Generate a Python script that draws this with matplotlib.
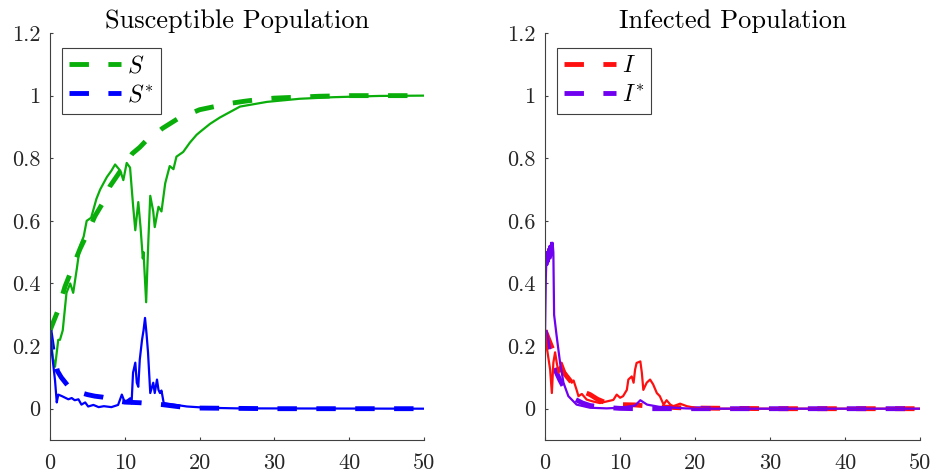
import matplotlib
matplotlib.use('Agg')
import matplotlib.pyplot as plt
from matplotlib.ticker import FixedLocator, FixedFormatter

# deterministic solutions (dashed)
t_det_s = [0, 0.5, 1, 2, 3, 4, 5, 6, 7, 8, 9, 10, 11, 12, 13, 14, 15, 16, 17, 18, 19, 20,
           22, 24, 26, 28, 30, 33, 36, 40, 45, 50]
S_det = [0.25, 0.28, 0.31, 0.39, 0.45, 0.51, 0.56, 0.615, 0.655, 0.71, 0.745, 0.78, 0.815, 0.835,
         0.86, 0.875, 0.895, 0.91, 0.925, 0.935, 0.945, 0.955, 0.965, 0.975, 0.982, 0.988, 0.992,
         0.995, 0.998, 1.0, 1.0, 1.0]
t_det_ss = [0, 0.5, 1, 1.5, 2, 2.5, 3, 4, 5, 6, 7, 8, 9, 10, 11, 12, 13, 14, 15, 16, 17, 18, 20,
            25, 30, 50]
S_star_det = [0.25, 0.17, 0.12, 0.1, 0.085, 0.07, 0.062, 0.052, 0.045, 0.04, 0.037, 0.032, 0.025,
              0.021, 0.02, 0.019, 0.017, 0.015, 0.013, 0.01, 0.007, 0.004, 0.002, 0.001, 0, 0]

t_det_i = [0, 0.5, 1, 1.5, 2, 3, 4, 5, 6, 7, 8, 9, 10, 12, 13, 15, 18, 20, 25, 30, 50]
I_det = [0.25, 0.22, 0.19, 0.15, 0.13, 0.1, 0.07, 0.055, 0.045, 0.03, 0.02, 0.015, 0.013, 0.012,
         0.01, 0.006, 0.003, 0.002, 0.001, 0, 0]
t_det_is = [0, 0.5, 1, 1.33, 2, 2.45, 3, 4, 5, 6, 8, 10, 12, 50]
I_star_det = [0.25, 0.19, 0.145, 0.125, 0.09, 0.07, 0.05, 0.03, 0.018, 0.01, 0.004, 0.001, 0, 0]

# stochastic sample paths (solid)
t_sim_s = [0, 0.4, 0.67, 1.1, 1.33, 1.7, 2.2, 2.7, 3.1, 3.6, 4.0, 4.5, 4.9, 5.5, 6.2, 6.7, 7.6,
           8.2, 8.7, 9.4, 9.8, 10.25, 10.7, 11.1, 11.4, 11.8, 12.1, 12.4, 12.5, 12.85, 13.15, 13.4,
           13.8, 14.0, 14.5, 14.9, 15.4, 16.0, 16.5, 16.9, 17.8, 18.7, 19.6, 20.1, 21.4, 22.7,
           25.4, 29, 33.4, 37.9, 44, 50]
S_sim = [0.25, 0.16, 0.134, 0.22, 0.22, 0.25, 0.37, 0.40, 0.37, 0.45, 0.52, 0.55, 0.60, 0.61,
         0.67, 0.70, 0.74, 0.76, 0.78, 0.76, 0.73, 0.785, 0.77, 0.65, 0.57, 0.66, 0.58, 0.48, 0.50,
         0.34, 0.54, 0.68, 0.63, 0.58, 0.645, 0.63, 0.72, 0.775, 0.765, 0.805, 0.82, 0.85, 0.875,
         0.885, 0.91, 0.93, 0.965, 0.98, 0.99, 0.995, 0.999, 1.0]
t_sim_ss = [0, 0.2, 0.67, 0.9, 1.1, 1.6, 2.45, 2.9, 3.3, 3.8, 4.2, 4.7, 5.1, 5.8, 6.5, 7.2, 8.2,
            9.1, 9.6, 10.0, 10.7, 10.9, 11.1, 11.4, 11.6, 11.8, 12.0, 12.3, 12.5, 12.7, 12.9,
            13.1, 13.4, 13.8, 14.0, 14.3, 14.5, 14.7, 14.9, 15.2, 16.0, 18.3, 20.9, 25, 50]
S_star_sim = [0.247, 0.19, 0.09, 0.02, 0.045, 0.04, 0.03, 0.034, 0.027, 0.03, 0.013, 0.02, 0.007,
              0.012, 0.005, 0.008, 0.005, 0.012, 0.045, 0.02, 0.033, 0.017, 0.115, 0.147, 0.083,
              0.07, 0.157, 0.22, 0.25, 0.29, 0.24, 0.18, 0.05, 0.083, 0.05, 0.093, 0.06, 0.05,
              0.058, 0.018, 0.015, 0.007, 0.003, 0.001, 0]

t_sim_i = [0, 0.2, 0.67, 0.9, 1.1, 1.33, 1.55, 1.8, 2.2, 2.7, 3.1, 3.55, 3.8, 4.2, 4.45, 4.9,
           5.55, 6.4, 7.3, 8.2, 9.1, 9.55, 10.0, 10.4, 10.9, 11.1, 11.55, 11.8, 12.0, 12.2, 12.7,
           12.9, 13.1, 13.55, 14.0, 14.4, 14.9, 15.3, 15.8, 16.2, 16.7, 17.1, 18.0, 18.9, 20.2,
           22, 50]
I_sim = [0.25, 0.2, 0.125, 0.05, 0.147, 0.18, 0.147, 0.115, 0.147, 0.115, 0.1, 0.083, 0.09, 0.06,
         0.04, 0.047, 0.029, 0.023, 0.018, 0.023, 0.028, 0.045, 0.035, 0.04, 0.06, 0.093, 0.103,
         0.083, 0.125, 0.146, 0.151, 0.115, 0.06, 0.083, 0.093, 0.078, 0.05, 0.04, 0.013, 0.027,
         0.013, 0.008, 0.016, 0.008, 0.002, 0, 0]
t_sim_is = [0, 0.1, 0.2, 0.3, 0.4, 0.5, 0.6, 0.7, 0.8, 0.9, 1.0, 1.1, 1.2, 1.4, 1.55, 2.0, 2.45,
            3.1, 4.2, 6.0, 8.2, 10.0, 12.0, 12.7, 13.6, 15.2, 18.7, 20, 50]
I_star_sim = [0.25, 0.42, 0.5, 0.46, 0.51, 0.47, 0.52, 0.48, 0.53, 0.49, 0.53, 0.5, 0.3, 0.26,
              0.23, 0.146, 0.083, 0.04, 0.013, 0.003, 0.001, 0.003, 0.01, 0.027, 0.013, 0.006,
              0.001, 0, 0]

green = '#0aae0a'
blue = '#0000ff'
red = '#ff1010'
purple = '#7000f0'
axis_col = '#404040'

plt.rcParams['font.family'] = 'cmr10'
plt.rcParams['mathtext.fontset'] = 'cm'
plt.rcParams['axes.unicode_minus'] = False
plt.rcParams['axes.formatter.use_mathtext'] = True

fig = plt.figure(figsize=(9.35, 4.75), dpi=100)
ax1 = fig.add_axes([0.0535, 0.0737, 0.4, 0.8568])
ax2 = fig.add_axes([0.583, 0.0737, 0.401, 0.8568])

dash = (4, 4)


def style(ax, title):
    ax.set_xlim(0, 50)
    ax.set_ylim(-0.1, 1.2)
    for s in ['top', 'right']:
        ax.spines[s].set_visible(False)
    for s in ['left', 'bottom']:
        ax.spines[s].set_color(axis_col)
        ax.spines[s].set_linewidth(0.8)
    ax.xaxis.set_major_locator(FixedLocator([0, 10, 20, 30, 40, 50]))
    ax.xaxis.set_major_formatter(FixedFormatter(['0', '10', '20', '30', '40', '50']))
    ax.yaxis.set_major_locator(FixedLocator([0, 0.2, 0.4, 0.6, 0.8, 1.0, 1.2]))
    ax.yaxis.set_major_formatter(FixedFormatter(['0', '0.2', '0.4', '0.6', '0.8', '1', '1.2']))
    ax.tick_params(direction='in', length=2.5, width=0.8, color=axis_col, labelcolor='#262626',
                   labelsize=16)
    ax.tick_params(axis='x', pad=10)
    ax.tick_params(axis='y', pad=7)
    ax.set_title(title, fontsize=19, color='#000000', pad=3.5)


ax1.plot(t_det_s, S_det, color=green, lw=3.5, dashes=dash, label=r'$S$')
ax1.plot(t_det_ss, S_star_det, color=blue, lw=3.5, dashes=dash, label=r'$S^{*}$')
ax1.plot(t_sim_s, S_sim, color=green, lw=1.6)
ax1.plot(t_sim_ss, S_star_sim, color=blue, lw=1.6)
style(ax1, 'Susceptible Population')

ax2.plot(t_det_i, I_det, color=red, lw=3.5, dashes=dash, label=r'$I$')
ax2.plot(t_det_is, I_star_det, color=purple, lw=3.5, dashes=dash, label=r'$I^{*}$')
ax2.plot(t_sim_i, I_sim, color=red, lw=1.6)
ax2.plot(t_sim_is, I_star_sim, color=purple, lw=1.6)
style(ax2, 'Infected Population')

for ax in (ax1, ax2):
    leg = ax.legend(loc='upper left', bbox_to_anchor=(0.032, 0.963), borderaxespad=0,
                    fontsize=17, handlelength=2.2, handletextpad=0.25, labelspacing=0.3,
                    borderpad=0.3, fancybox=False, framealpha=1, edgecolor=axis_col)
    leg.get_frame().set_linewidth(0.8)

fig.savefig('out.png', dpi=100)
